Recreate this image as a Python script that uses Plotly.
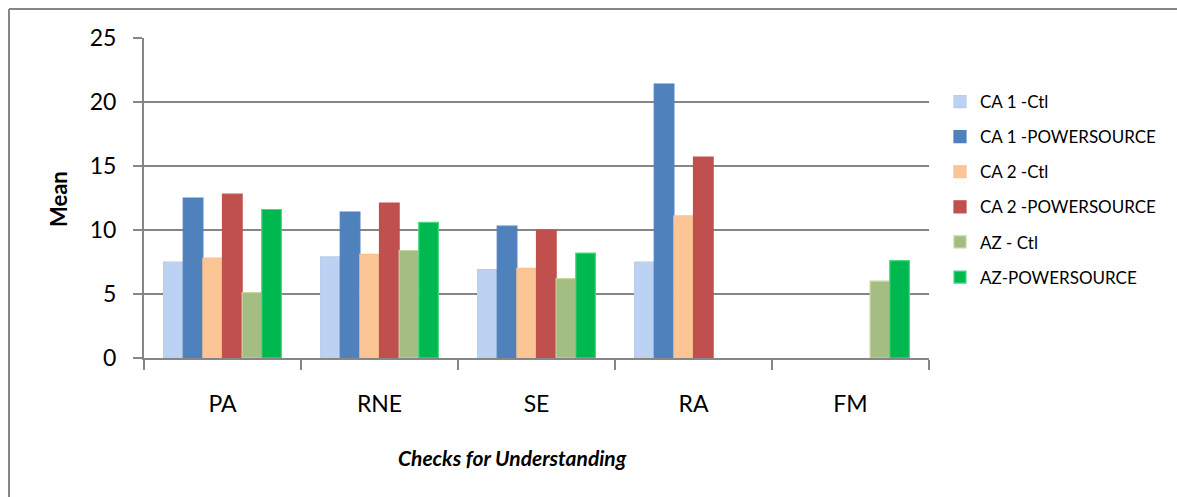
import plotly.graph_objects as go

categories = ["PA", "RNE", "SE", "RA", "FM"]
series_names = ["CA 1 -Ctl", "CA 1 -POWERSOURCE", "CA 2 -Ctl",
                "CA 2 -POWERSOURCE", "AZ - Ctl", "AZ-POWERSOURCE"]
ca1_ctl = [7.5, 7.9, 6.9, 7.5, None]
ca1_ps = [12.5, 11.4, 10.3, 21.4, None]
ca2_ctl = [7.8, 8.1, 7.0, 11.1, None]
ca2_ps = [12.8, 12.1, 10.0, 15.7, None]
az_ctl = [5.1, 8.4, 6.2, None, 6.0]
az_ps = [11.6, 10.6, 8.2, None, 7.6]
y_ticks = [0, 5, 10, 15, 20, 25]

values = [ca1_ctl, ca1_ps, ca2_ctl, ca2_ps, az_ctl, az_ps]
fills = ["#bcd2f2", "#4f81bd", "#fbc596", "#c0504d", "#a3bd83", "#00b850"]
lines = ["#b9cde8", "#4f81bd", "#fac090", "#c0504d", "#c3d69b", "#4ad77f"]

FONT = "Lato"
OFF = 0  # page body margin removed by post_script
W, H = 1177, 497
# plot area in page pixels
L, R, T, B = 144, 929, 38, 358
pw = R - L
ph = B - T


def px(x):
    return (x - L) / pw


def py(y):
    return 1 - (y - T) / ph


fig = go.Figure()
for i, (name, vals) in enumerate(zip(series_names, values)):
    fig.add_trace(go.Bar(
        name=name, x=categories, y=vals,
        marker=dict(color=fills[i], line=dict(color=lines[i], width=1.2)),
        legendgroup=f"g{i}",
    ))

border = dict(color="#868686", width=2)
fig.update_layout(
    width=W, height=H,
    margin=dict(l=L - OFF, r=W - (R - OFF), t=T - OFF, b=H - (B - OFF), autoexpand=False),
    paper_bgcolor="white", plot_bgcolor="white",
    barmode="group", bargap=0.25, bargroupgap=0,
    font=dict(family=FONT, color="black"),
    showlegend=True,
    legend=dict(
        x=px(940), y=py(84), xanchor="left", yanchor="top",
        font=dict(family=FONT, size=17, color="black"),
        traceorder="grouped", tracegroupgap=10,
        bgcolor="rgba(0,0,0,0)",
    ),
    xaxis=dict(
        showline=True, linecolor="#868686", linewidth=2,
        ticks="outside", tickson="boundaries", ticklen=10, tickcolor="#868686", tickwidth=2,
        tickfont=dict(family=FONT, size=23, color="black"),
        ticklabelstandoff=24,
        showgrid=False,
    ),
    yaxis=dict(
        range=[0, 25], tickvals=y_ticks,
        showline=True, linecolor="#868686", linewidth=2,
        ticks="outside", ticklen=9, tickcolor="#868686", tickwidth=2,
        gridcolor="#868686", gridwidth=2,
        zeroline=False,
        tickfont=dict(family=FONT, size=23, color="black"),
        ticklabelstandoff=12,
    ),
    annotations=[
        dict(text="<b><i>Checks for Understanding</i></b>", xref="paper", yref="paper",
             x=px(512), y=py(457), xanchor="center", yanchor="middle", showarrow=False,
             font=dict(family=FONT, size=21, color="black")),
        dict(text="<b>Mean</b>", xref="paper", yref="paper", textangle=-90,
             x=px(58), y=py(199), xanchor="center", yanchor="middle", showarrow=False,
             font=dict(family=FONT, size=22, color="black")),
    ],
    shapes=[
        dict(type="line", xref="paper", yref="paper",
             x0=px(9), x1=px(9), y0=py(9), y1=py(600), line=border, layer="below"),
        dict(type="line", xref="paper", yref="paper",
             x0=px(9), x1=px(1300), y0=py(9), y1=py(9), line=border, layer="below"),
    ],
)

fig.write_html(
    "out.html",
    config={"displayModeBar": False},
    post_script="document.body.style.margin='0';document.body.style.overflow='hidden';",
)
